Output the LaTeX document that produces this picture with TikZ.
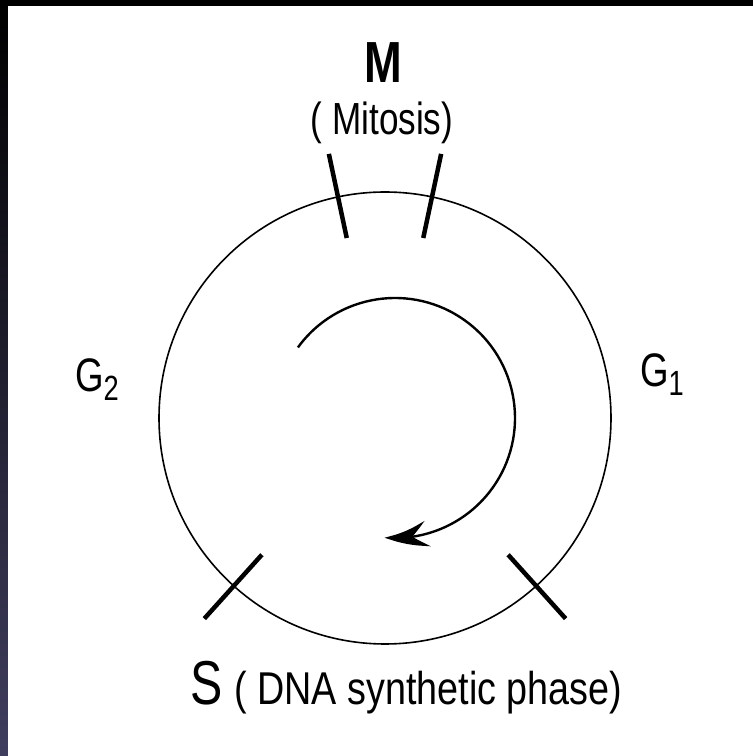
\documentclass[tikz,border=0pt]{standalone}
\usepackage{fontspec}
\setmainfont{Liberation Sans}
\newfontfamily\cf[FakeStretch=0.78]{Liberation Sans}
\newfontfamily\cfw[FakeStretch=0.82]{Liberation Sans}
\usetikzlibrary{arrows.meta,bending}
\begin{document}
\begin{tikzpicture}[x=1pt,y=1pt,
  lbl/.style={inner sep=0pt},
  tickmark/.style={line width=4.5pt},
  ring/.style={line width=1.6pt},
  cyclearrow/.style={line width=2.4pt,-{Stealth[length=44pt,width=26pt,inset=16pt,bend]}}
]
\useasboundingbox (0,0) rectangle (753,756);
\fill[black] (0,0) rectangle (753,756);
\shade[top color=black, bottom color={rgb,255:red,64;green,62;blue,94}] (0,0) rectangle (8,756);
\fill[white] (8,0) rectangle (753,750);
\coordinate (c) at (385,338);
\draw[ring] (c) circle[radius=226];
\draw[tickmark] (c) ++(102:184) -- ++(102:86);
\draw[tickmark] (c) ++(78:184) -- ++(78:86);
\draw[tickmark] (c) ++(228:184) -- ++(228:86);
\draw[tickmark] (c) ++(312:184) -- ++(312:86);
\coordinate (ac) at (395,338);
\draw[cyclearrow] (ac) ++(144:120) arc[start angle=144,end angle=-95,radius=120];
\node[lbl, font=\cf\bfseries\fontsize{58}{58}\selectfont, anchor=base] (m) at (383,673) {M};
\node[lbl, font=\cf\fontsize{45}{45}\selectfont, anchor=base] (mit) at (382,621) {( Mitosis)};
\node[lbl, font=\cf\fontsize{47}{47}\selectfont, anchor=base west] (g2) at (75,364) {G\raisebox{-9pt}{\fontsize{35}{35}\selectfont 2}};
\node[lbl, font=\cf\fontsize{47}{47}\selectfont, anchor=base west] (g1) at (640,369) {G\raisebox{-9pt}{\fontsize{35}{35}\selectfont 1}};
\node[lbl, font=\cf, anchor=base west] (s) at (190,52) {{\fontsize{62}{62}\selectfont S}\hspace{12pt}{\cfw\fontsize{46}{46}\selectfont ( DNA synthetic phase)}};
\end{tikzpicture}
\end{document}
